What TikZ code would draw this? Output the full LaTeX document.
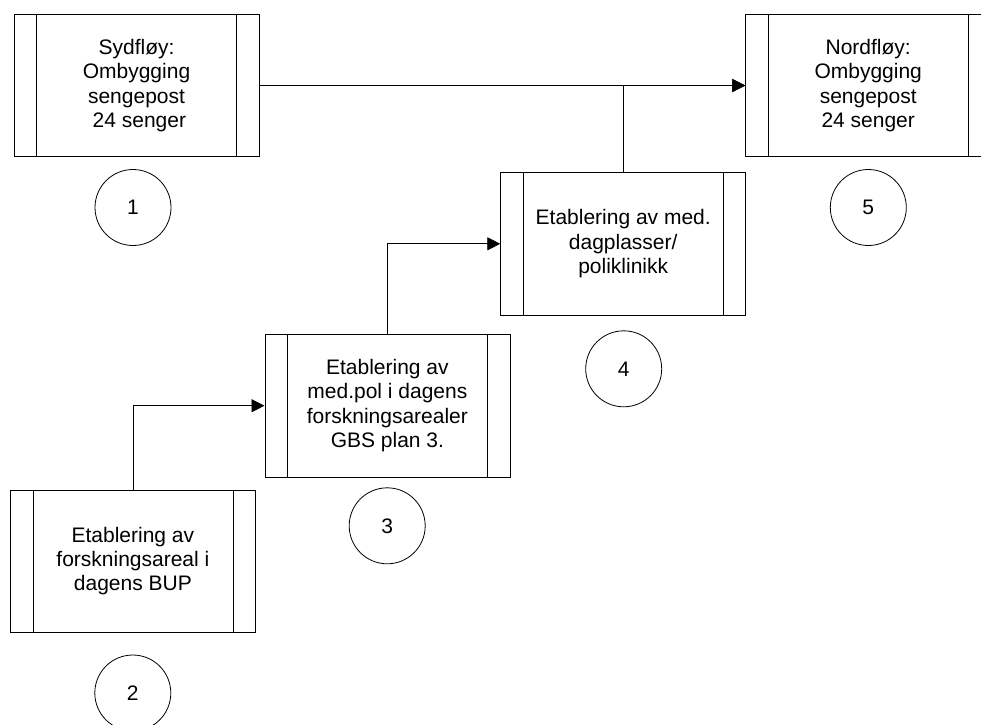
\documentclass[tikz,border=0pt]{standalone}
\usepackage{fontspec}
\setmainfont{Liberation Sans}
\usetikzlibrary{arrows.meta}
\newcommand{\boxfont}{\fontsize{21pt}{24.3pt}\selectfont}
\newcommand{\numfont}{\fontsize{21pt}{24pt}\selectfont}
\begin{document}
\begin{tikzpicture}[x=1pt,y=-1pt,
  procbox/.style={draw, line width=0.8pt, minimum width=245pt, minimum height=142.5pt,
    inner sep=0pt, align=center, font=\boxfont,
    path picture={
      \draw[line width=0.8pt]
        ([xshift=22.5pt]path picture bounding box.north west) --
        ([xshift=22.5pt]path picture bounding box.south west)
        ([xshift=-22.5pt]path picture bounding box.north east) --
        ([xshift=-22.5pt]path picture bounding box.south east);}},
  stepnum/.style={draw, circle, minimum size=76pt, inner sep=0pt, line width=0.8pt,
    font=\numfont},
  flow/.style={draw, line width=0.8pt, -{Triangle[length=13pt,width=13pt]}}]

% page area; the last box runs past the right edge
\useasboundingbox (0,0) rectangle (981,724);
\clip (0,0) rectangle (981,724);

% process boxes
\node[procbox] (b1) at (136.5,85.5) {Sydfløy:\\Ombygging\\sengepost\\\mbox{}~24 senger};
\node[procbox] (b5) at (868.2,85.5) {Nordfløy:\\Ombygging\\sengepost\\24 senger};
\node[procbox] (b4) at (623.2,243.8) {Etablering av med.\\dagplasser/\\poliklinikk};
\node[procbox] (b3) at (387.4,405.7) {Etablering av\\med.pol i dagens\\forskningsarealer\\GBS plan 3.};
\node[procbox] (b2) at (132.9,561.2) {Etablering av\\forskningsareal i\\dagens BUP};

% step numbers
\node[stepnum] (n1) at (133,207.5) {1};
\node[stepnum] (n5) at (868.3,207.5) {5};
\node[stepnum] (n4) at (623.7,368.8) {4};
\node[stepnum] (n3) at (387.2,525.8) {3};
\node[stepnum] (n2) at (132.8,693) {2};

% connectors
\draw[flow] (b1.east) -- (b5.west);
\draw[flow] (b4.north) |- (b5.west);
\draw[flow] (b3.north) |- (b4.west);
\draw[flow] (b2.north) |- (b3.west);
\end{tikzpicture}
\end{document}
